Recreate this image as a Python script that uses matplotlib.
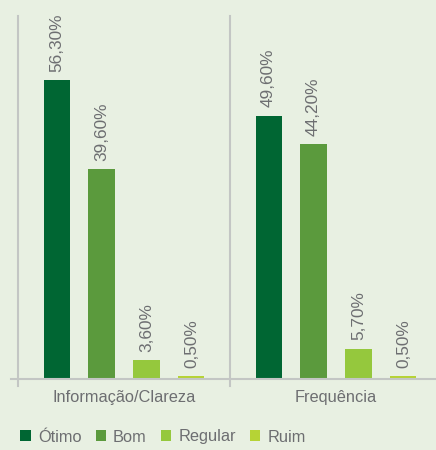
import matplotlib.pyplot as plt
from matplotlib.patches import Patch
import numpy as np

categories = ["Informação/Clareza", "Frequência"]
series = ["Ótimo", "Bom", "Regular", "Ruim"]
otimo = [56.3, 49.6]
bom = [39.6, 44.2]
regular = [3.6, 5.7]
ruim = [0.5, 0.5]
value_labels = [["56,30%", "49,60%"], ["39,60%", "44,20%"],
                ["3,60%", "5,70%"], ["0,50%", "0,50%"]]

colors = ["#006633", "#5b9a3d", "#95c83d", "#b6d335"]
bg = "#e8f0e2"
text_gray = "#6d6e71"
line_gray = "#c3c6c4"

plt.rcParams["font.family"] = ["Liberation Sans Narrow", "Liberation Sans", "DejaVu Sans"]

fig = plt.figure(figsize=(4.36, 4.5), dpi=100, facecolor=bg)
ax = fig.add_axes([18 / 436, 71 / 450, 424 / 436, 363 / 450])
ax.set_facecolor(bg)

x = np.arange(len(categories))
width = 0.123
step = 0.212
for i, vals in enumerate([otimo, bom, regular, ruim]):
    pos = x + (i - 1.5) * step
    ax.bar(pos, vals, width=width, color=colors[i], zorder=2)
    for xp, v, lab in zip(pos, vals, value_labels[i]):
        ax.annotate(lab, (xp, v), xytext=(0, 6), textcoords="offset points",
                    rotation=90, ha="center", va="bottom",
                    fontsize=12.4, color=text_gray)

ax.set_xlim(-0.5, 1.5)
ax.set_ylim(0, 68.4)

for s in ax.spines.values():
    s.set_visible(False)
ax.set_xticks([])
ax.set_yticks([])

# baseline and category separators
ax.axhline(0, xmin=-0.017, xmax=1, color=line_gray, lw=1.5, clip_on=False, zorder=3)
for xv in [-0.5, 0.5]:
    ax.axvline(xv, ymin=-0.02, ymax=1, color=line_gray, lw=1.5, clip_on=False, zorder=1)

for xc, cat in zip(x, categories):
    ax.text(xc, -3.5, cat, ha="center", va="center", fontsize=11.8, color=text_gray)

handles = [Patch(facecolor=c, edgecolor="none") for c in colors]
fig.legend(handles, series, loc="center left", bbox_to_anchor=(0.047, 13 / 450),
           ncol=4, frameon=False, fontsize=11.8, labelcolor=text_gray,
           handlelength=0.62, handleheight=0.62, handletextpad=0.45,
           columnspacing=0.85, borderaxespad=0, borderpad=0)

fig.savefig("out.png", dpi=100, facecolor=bg)
